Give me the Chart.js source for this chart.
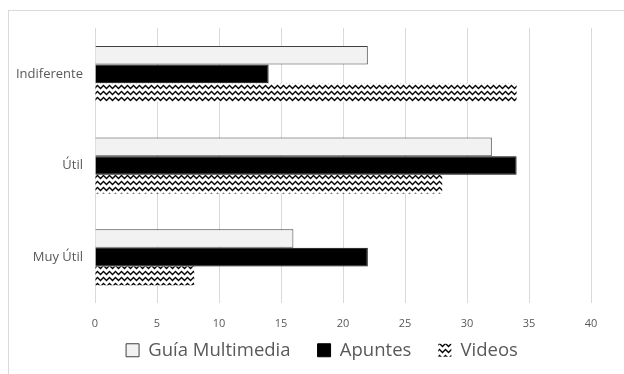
<!DOCTYPE html>
<html>
<head>
<meta charset="utf-8">
<script src="https://cdn.jsdelivr.net/npm/chart.js@4"></script>
<style>
  html, body { margin: 0; padding: 0; background: #ffffff; }
  #wrap { width: 624px; height: 374px; position: relative; }
</style>
</head>
<body>
<div id="wrap"><canvas id="chart" width="624" height="374"></canvas></div>
<script>
// Valoración de los recursos por categoría
const categories = ['Indiferente', 'Útil', 'Muy Útil'];
const seriesNames = ['Guía Multimedia', 'Apuntes', 'Videos'];
const guiaMultimedia = [22, 32, 16];
const apuntes = [14, 34, 22];
const videos = [34, 28, 8];
const xTicks = [0, 5, 10, 15, 20, 25, 30, 35, 40];

// Zigzag fill for the "Videos" series
function zigzagPattern() {
  const c = document.createElement('canvas');
  c.width = 6; c.height = 6;
  const g = c.getContext('2d');
  g.fillStyle = '#ffffff';
  g.fillRect(0, 0, 6, 6);
  g.strokeStyle = '#000000';
  g.lineWidth = 1.3;
  g.beginPath();
  g.moveTo(-1, 4);
  g.lineTo(1.5, 1.5);
  g.lineTo(4.5, 4.5);
  g.lineTo(7, 2);
  g.stroke();
  return g.createPattern(c, 'repeat');
}

const ctx = document.getElementById('chart').getContext('2d');
const zig = zigzagPattern();

// Light frame around the chart
const framePlugin = {
  id: 'frame',
  beforeDraw(chart) {
    const c = chart.ctx;
    c.save();
    c.strokeStyle = '#d9d9d9';
    c.lineWidth = 1;
    c.strokeRect(8.5, 10.5, chart.width + 10, chart.height + 10);
    c.restore();
  }
};

// Legend row: compact height in the layout, centred under the plot
const legendPlace = {
  id: 'legendPlace',
  beforeLayout(chart) {
    const lg = chart.legend;
    if (lg && !lg._compact) {
      const fit = lg.fit;
      lg.fit = function () { fit.call(this); this.height = 40; };
      lg._compact = true;
    }
  },
  afterLayout(chart) {
    const lg = chart.legend;
    const dx = 322 - (lg.left + lg.right) / 2;
    const dy = 314 - lg.top;
    lg.left += dx; lg.right += dx;
    lg.top += dy; lg.bottom = chart.height;
  }
};

new Chart(ctx, {
  type: 'bar',
  data: {
    labels: categories,
    datasets: [
      { label: seriesNames[0], data: guiaMultimedia, backgroundColor: '#f2f2f2', borderColor: '#404040', borderWidth: 1 },
      { label: seriesNames[1], data: apuntes, backgroundColor: '#000000', borderColor: '#000000', borderWidth: 1 },
      { label: seriesNames[2], data: videos, backgroundColor: zig, borderWidth: 0 }
    ]
  },
  options: {
    indexAxis: 'y',
    responsive: false,
    animation: false,
    devicePixelRatio: 1,
    layout: { padding: { left: 0, right: 33, top: 28, bottom: 1 } },
    datasets: { bar: { categoryPercentage: 0.61, barPercentage: 1.0 } },
    scales: {
      x: {
        min: 0, max: 40,
        afterBuildTicks(scale) { scale.ticks = xTicks.map(v => ({ value: v })); },
        afterFit(scale) { scale.height = 30; },
        grid: { color: '#d9d9d9', drawTicks: false, lineWidth: 1 },
        border: { display: false },
        ticks: { color: '#595959', font: { family: 'Open Sans', size: 11 }, padding: 14 }
      },
      y: {
        grid: { display: false, drawTicks: false },
        border: { display: false },
        afterFit(scale) { scale.width = 95; },
        ticks: { color: '#595959', font: { family: 'Open Sans', size: 13 }, padding: 12 }
      }
    },
    plugins: {
      tooltip: { enabled: false },
      legend: {
        position: 'bottom',
        labels: {
          color: '#595959',
          font: { family: 'Open Sans', size: 18.5 },
          boxWidth: 13, boxHeight: 13,
          padding: 27
        }
      }
    }
  },
  plugins: [framePlugin, legendPlace]
});
</script>
</body>
</html>
